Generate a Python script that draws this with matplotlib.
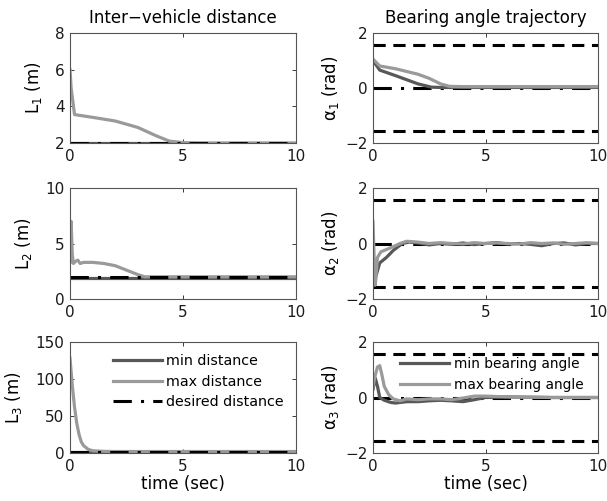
import numpy as np
import matplotlib
matplotlib.use("Agg")
import matplotlib.pyplot as plt

plt.rcParams['font.family'] = ['DejaVu Sans']
plt.rcParams['mathtext.fontset'] = 'dejavusans'
plt.rcParams['font.size'] = 11

# ---- data ----
# L1
t_L1_max = [0, 0.05, 0.2, 1.0, 2.0, 3.0, 3.8, 4.4, 5.0, 6, 10]
L1_max = [6.0, 5.0, 3.55, 3.4, 3.2, 2.85, 2.4, 2.1, 2.02, 2.0, 2.0]
t_L1_min = [0, 10]
L1_min = [2.0, 2.0]
L1_des = 2.0

# L2
t_L2_max = [0, 0.05, 0.1, 0.15, 0.25, 0.35, 0.45, 0.6, 1.0, 1.5, 2.0, 2.5, 3.0, 3.3, 4, 10]
L2_max = [3.3, 7.0, 4.0, 3.2, 3.4, 3.5, 3.2, 3.3, 3.3, 3.2, 3.0, 2.6, 2.2, 2.0, 2.0, 2.0]
t_L2_min = [0, 10]
L2_min = [1.85, 1.85]
L2_des = 2.0

# L3
t_L3_max = [0, 0.05, 0.1, 0.2, 0.3, 0.4, 0.5, 0.6, 0.8, 1.0, 1.5, 2.0, 10]
L3_max = [128, 110, 92, 62, 40, 25, 15, 10, 5, 3, 2.2, 2.0, 2.0]
t_L3_min = [0, 10]
L3_min = [2.0, 2.0]
L3_des = 2.0

# alpha1
t_a1_min = [0, 0.3, 1.0, 1.5, 2.0, 2.6, 3.0, 10]
a1_min = [1.0, 0.65, 0.45, 0.3, 0.15, 0.03, 0.02, 0.02]
t_a1_max = [0, 0.3, 1.0, 2.0, 2.5, 3.0, 3.4, 4.0, 10]
a1_max = [1.05, 0.8, 0.7, 0.5, 0.35, 0.15, 0.06, 0.05, 0.05]

# alpha2
t_a2_min = [0, 0.08, 0.12, 0.3, 0.6, 0.9, 1.3, 1.6, 2.0, 2.5, 3.0, 3.5, 4.0, 4.5, 5.0, 5.5, 6.0, 6.5, 7.0, 7.5, 8.0, 8.5, 9.0, 9.5, 10]
a2_min = [-0.9, -1.5, -1.2, -0.7, -0.5, -0.25, 0.0, 0.05, 0.02, -0.05, 0.0, -0.03, 0.02, -0.04, 0.0, 0.03, -0.02, 0.0, -0.03, -0.08, 0.0, 0.02, -0.05, 0.0, 0.0]
t_a2_max = [0, 0.05, 0.1, 0.2, 0.35, 0.8, 1.2, 1.5, 2.0, 2.5, 3.0, 3.5, 4.0, 4.5, 5.0, 5.5, 6.0, 6.5, 7.0, 7.5, 8.0, 8.5, 9.0, 9.5, 10]
a2_max = [0.8, -0.5, -1.5, -0.5, -0.3, -0.15, 0.0, 0.08, 0.05, 0.0, 0.03, 0.0, -0.02, 0.03, 0.0, 0.02, 0.0, -0.02, 0.03, 0.0, 0.02, -0.03, 0.0, 0.03, 0.0]

# alpha3
t_a3_min = [0, 0.1, 0.2, 0.3, 0.5, 0.8, 1.0, 1.5, 2.0, 2.5, 3.0, 3.5, 4.0, 4.5, 5.0, 6.0, 8.0, 10]
a3_min = [0.3, 0.7, 0.4, 0.0, -0.1, -0.18, -0.2, -0.15, -0.15, -0.12, -0.1, -0.12, -0.15, -0.08, 0.0, 0.02, 0.0, 0.0]
t_a3_max = [0, 0.1, 0.2, 0.3, 0.4, 0.5, 0.7, 0.9, 1.2, 1.5, 2.0, 2.5, 3.0, 3.5, 4.0, 4.5, 5.0, 6.0, 8.0, 10]
a3_max = [0.4, 0.8, 1.1, 1.15, 0.8, 0.4, 0.1, -0.05, -0.12, -0.05, -0.08, -0.05, -0.05, -0.08, -0.02, 0.05, 0.05, 0.02, 0.0, 0.0]

a_limit = np.pi / 2
a_des = 0.0

x_ticks = [0, 5, 10]

# ---- style ----
c_min = '#585858'
c_max = '#9a9a9a'
lw = 2.3

fig = plt.figure(figsize=(6.07, 5.01), dpi=100)
W, H = 607, 501

def ax_at(x0, y0, x1, y1):
    return fig.add_axes([x0 / W, 1 - y1 / H, (x1 - x0) / W, (y1 - y0) / H])

def style(ax):
    ax.tick_params(direction='in', top=True, right=True, length=3, width=0.6,
                   labelsize=11, colors='#1a1a1a', pad=4)
    for s in ax.spines.values():
        s.set_linewidth(0.8)
        s.set_color('#555555')

rows = [(33, 143), (188, 299), (342, 453)]
left = (70, 296)
right = (373, 598)

L_data = [
    (t_L1_min, L1_min, t_L1_max, L1_max, L1_des, (2, 8), [2, 4, 6, 8], 'L$_1$ (m)'),
    (t_L2_min, L2_min, t_L2_max, L2_max, L2_des, (0, 10), [0, 5, 10], 'L$_2$ (m)'),
    (t_L3_min, L3_min, t_L3_max, L3_max, L3_des, (0, 150), [0, 50, 100, 150], 'L$_3$ (m)'),
]
A_data = [
    (t_a1_min, a1_min, t_a1_max, a1_max, '\u03b1$_1$ (rad)'),
    (t_a2_min, a2_min, t_a2_max, a2_max, '\u03b1$_2$ (rad)'),
    (t_a3_min, a3_min, t_a3_max, a3_max, '\u03b1$_3$ (rad)'),
]

dashdot = (0, (6, 3, 1, 3))

for i, (y0, y1) in enumerate(rows):
    tmn, ymn, tmx, ymx, des, ylim, yt, lab = L_data[i]
    ax = ax_at(left[0], y0, left[1], y1)
    h1, = ax.plot(tmn, ymn, color=c_min, lw=lw, label='min distance')
    h2, = ax.plot(tmx, ymx, color=c_max, lw=lw, label='max distance')
    h3, = ax.plot([0, 10], [des, des], color='black', lw=2.2, ls=dashdot,
                  label='desired distance')
    ax.set_xlim(0, 10)
    ax.set_ylim(*ylim)
    ax.set_xticks(x_ticks)
    ax.set_yticks(yt)
    ax.set_ylabel(lab, fontsize=12, labelpad=8)
    style(ax)
    if i == 0:
        ax.set_title('Inter\u2212vehicle distance', fontsize=12, pad=7)
    if i == 2:
        ax.set_xlabel('time (sec)', fontsize=12, labelpad=1)
        ax.legend(handles=[h1, h2, h3], loc='upper right', frameon=False,
                  fontsize=10.3, handlelength=3.4, handletextpad=0.3,
                  labelspacing=0.45, borderaxespad=0.2,
                  bbox_to_anchor=(0.985, 0.965))

    tmn, ymn, tmx, ymx, lab = A_data[i]
    ax = ax_at(right[0], y0, right[1], y1)
    ax.plot([0, 10], [a_limit, a_limit], color='black', lw=2.2, ls=(0, (4, 2.5)))
    ax.plot([0, 10], [-a_limit, -a_limit], color='black', lw=2.2, ls=(0, (4, 2.5)))
    ax.plot([0, 10], [a_des, a_des], color='black', lw=2.2, ls=dashdot)
    g1, = ax.plot(tmn, ymn, color=c_min, lw=lw, label='min bearing angle')
    g2, = ax.plot(tmx, ymx, color=c_max, lw=lw, label='max bearing angle')
    ax.set_xlim(0, 10)
    ax.set_ylim(-2, 2)
    ax.set_xticks(x_ticks)
    ax.set_yticks([-2, 0, 2])
    ax.set_ylabel(lab, fontsize=12, labelpad=3)
    style(ax)
    if i == 0:
        ax.set_title('Bearing angle trajectory', fontsize=12, pad=7)
    if i == 2:
        ax.set_xlabel('time (sec)', fontsize=12, labelpad=1)
        ax.legend(handles=[g1, g2], loc='upper right', frameon=False,
                  fontsize=9.9, handlelength=3.6, handletextpad=0.3,
                  labelspacing=0.5, borderaxespad=0.1,
                  bbox_to_anchor=(0.965, 0.93))

fig.savefig('out.png', dpi=100)
